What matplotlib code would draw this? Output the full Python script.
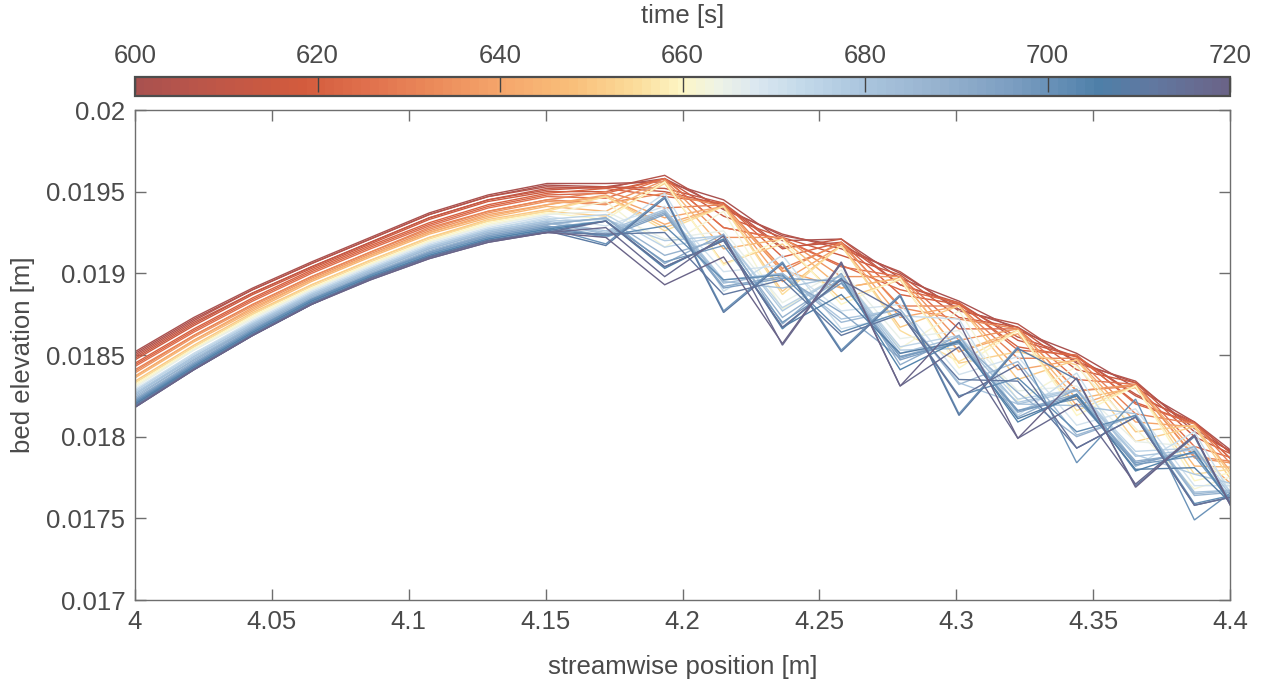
import matplotlib
matplotlib.use("Agg")
import matplotlib.pyplot as plt
from matplotlib.colors import LinearSegmentedColormap, Normalize
from matplotlib.cm import ScalarMappable

# ---------------- data ----------------
x_pos = [4.0, 4.0215, 4.043, 4.0645, 4.086, 4.1075, 4.129, 4.1505, 4.172, 4.1935,
         4.215, 4.2365, 4.258, 4.2795, 4.301, 4.3225, 4.344, 4.3655, 4.387, 4.4085]

times = [600, 602, 605, 610, 612, 615, 620, 622, 625, 630, 632, 635, 640, 642,
         645, 650, 652, 655, 660, 662, 665, 670, 672, 675, 678, 680, 682, 685,
         688, 690, 692, 695, 698, 700, 702, 705, 708, 710, 712, 715, 718, 720]

# bed elevation in mm for each time
p600 = [18.52, 18.73, 18.91, 19.07, 19.22, 19.37, 19.48, 19.55, 19.55, 19.56, 19.45, 19.20, 19.21, 18.97, 18.83, 18.65, 18.51, 18.30, 18.09, 17.81]
p602 = [18.51, 18.72, 18.90, 19.06, 19.21, 19.36, 19.47, 19.54, 19.53, 19.58, 19.40, 19.23, 19.17, 19.00, 18.78, 18.67, 18.46, 18.33, 18.05, 17.82]
p605 = [18.50, 18.71, 18.90, 19.06, 19.21, 19.36, 19.47, 19.53, 19.52, 19.60, 19.39, 19.24, 19.15, 19.01, 18.77, 18.69, 18.45, 18.34, 18.03, 17.84]
p610 = [18.49, 18.70, 18.88, 19.04, 19.19, 19.34, 19.45, 19.52, 19.53, 19.52, 19.43, 19.16, 19.19, 18.93, 18.81, 18.61, 18.49, 18.26, 18.08, 17.79]
p612 = [18.48, 18.69, 18.88, 19.04, 19.19, 19.34, 19.45, 19.51, 19.53, 19.50, 19.42, 19.15, 19.21, 18.93, 18.82, 18.59, 18.49, 18.25, 18.09, 17.78]
p615 = [18.47, 18.68, 18.87, 19.03, 19.18, 19.33, 19.44, 19.50, 19.50, 19.58, 19.35, 19.22, 19.11, 18.99, 18.73, 18.67, 18.41, 18.33, 18.00, 17.83]
p620 = [18.45, 18.66, 18.85, 19.02, 19.17, 19.31, 19.42, 19.49, 19.52, 19.47, 19.43, 19.10, 19.19, 18.87, 18.81, 18.55, 18.49, 18.21, 18.08, 17.73]
p622 = [18.44, 18.65, 18.84, 19.01, 19.16, 19.30, 19.41, 19.48, 19.49, 19.58, 19.28, 19.21, 19.05, 18.90, 18.82, 18.53, 18.50, 18.20, 18.08, 17.73]
p625 = [18.43, 18.64, 18.83, 19.00, 19.15, 19.29, 19.40, 19.47, 19.46, 19.58, 19.28, 19.21, 19.04, 18.98, 18.66, 18.66, 18.35, 18.32, 17.94, 17.83]
p630 = [18.41, 18.62, 18.81, 18.98, 19.13, 19.28, 19.38, 19.45, 19.50, 19.40, 19.42, 19.03, 19.18, 18.80, 18.80, 18.48, 18.48, 18.14, 18.08, 17.68]
p632 = [18.40, 18.62, 18.81, 18.98, 19.13, 19.27, 19.38, 19.45, 19.43, 19.49, 19.41, 19.01, 19.19, 18.79, 18.72, 18.66, 18.28, 18.31, 17.88, 17.83]
p635 = [18.39, 18.61, 18.80, 18.97, 19.12, 19.26, 19.37, 19.44, 19.42, 19.57, 19.22, 19.22, 18.98, 18.98, 18.59, 18.66, 18.28, 18.32, 17.87, 17.82]
p640 = [18.37, 18.59, 18.79, 18.96, 19.11, 19.25, 19.36, 19.42, 19.48, 19.34, 19.41, 18.95, 19.17, 18.73, 18.80, 18.41, 18.47, 18.09, 18.06, 17.62]
p642 = [18.37, 18.59, 18.78, 18.96, 19.11, 19.25, 19.35, 19.42, 19.47, 19.30, 19.41, 19.02, 18.91, 18.97, 18.52, 18.63, 18.19, 18.31, 17.91, 17.59]
p645 = [18.36, 18.58, 18.77, 18.95, 19.10, 19.24, 19.34, 19.41, 19.38, 19.56, 19.15, 19.21, 18.91, 18.97, 18.52, 18.65, 18.23, 18.30, 17.82, 17.81]
p650 = [18.34, 18.56, 18.76, 18.93, 19.08, 19.22, 19.33, 19.39, 19.47, 19.28, 19.41, 18.89, 19.17, 18.67, 18.80, 18.35, 18.47, 18.03, 18.07, 17.58]
p652 = [18.33, 18.55, 18.75, 18.93, 19.08, 19.22, 19.32, 19.38, 19.35, 19.55, 19.06, 19.18, 18.84, 18.96, 18.45, 18.52, 18.44, 17.97, 18.06, 17.54]
p655 = [18.33, 18.55, 18.75, 18.92, 19.07, 19.21, 19.32, 19.38, 19.47, 19.26, 19.41, 18.87, 19.17, 18.65, 18.46, 18.65, 18.16, 18.31, 17.77, 17.82]
p660 = [18.32, 18.54, 18.74, 18.91, 19.06, 19.20, 19.31, 19.37, 19.33, 19.56, 19.05, 19.21, 18.81, 18.97, 18.42, 18.65, 18.13, 18.31, 17.73, 17.81]
p662 = [18.31, 18.53, 18.73, 18.90, 19.05, 19.19, 19.30, 19.36, 19.44, 19.16, 19.38, 18.78, 19.00, 18.54, 18.77, 18.22, 18.43, 18.05, 17.68, 17.80]
p665 = [18.30, 18.53, 18.72, 18.90, 19.05, 19.19, 19.29, 19.36, 19.38, 19.21, 19.26, 18.82, 19.02, 18.60, 18.65, 18.28, 18.31, 17.97, 17.94, 17.53]
p670 = [18.29, 18.51, 18.71, 18.89, 19.04, 19.18, 19.28, 19.35, 19.29, 19.41, 19.01, 19.05, 18.77, 18.81, 18.38, 18.49, 18.07, 18.17, 17.70, 17.70]
p672 = [18.28, 18.51, 18.70, 18.88, 19.03, 19.17, 19.27, 19.34, 19.24, 19.49, 18.89, 19.11, 18.66, 18.74, 18.72, 18.13, 18.39, 17.82, 18.03, 17.42]
p675 = [18.28, 18.50, 18.70, 18.88, 19.03, 19.17, 19.27, 19.33, 19.36, 19.16, 19.23, 18.79, 18.99, 18.55, 18.62, 18.23, 18.29, 17.91, 17.93, 17.49]
p678 = [18.27, 18.49, 18.69, 18.87, 19.02, 19.16, 19.26, 19.32, 19.33, 19.20, 19.23, 18.77, 18.99, 18.53, 18.54, 18.21, 18.29, 17.89, 17.77, 17.68]
p680 = [18.26, 18.49, 18.69, 18.87, 19.02, 19.16, 19.26, 19.32, 19.26, 19.39, 18.96, 19.00, 18.72, 18.78, 18.33, 18.20, 18.28, 17.88, 17.92, 17.47]
p682 = [18.26, 18.48, 18.68, 18.86, 19.01, 19.15, 19.25, 19.31, 19.25, 19.38, 18.95, 18.91, 18.98, 18.51, 18.61, 18.20, 18.19, 18.14, 17.66, 17.68]
p685 = [18.25, 18.47, 18.68, 18.86, 19.01, 19.15, 19.25, 19.31, 19.24, 19.38, 18.94, 19.00, 18.70, 18.78, 18.32, 18.46, 18.01, 18.13, 17.65, 17.68]
p688 = [18.24, 18.47, 18.67, 18.85, 19.00, 19.14, 19.24, 19.30, 19.34, 19.11, 19.21, 18.73, 18.97, 18.49, 18.59, 18.27, 18.00, 18.13, 17.64, 17.67]
p690 = [18.23, 18.46, 18.67, 18.85, 19.00, 19.13, 19.24, 19.30, 19.34, 19.06, 19.24, 18.69, 19.00, 18.44, 18.62, 18.12, 18.29, 17.82, 17.94, 17.41]
p692 = [18.23, 18.45, 18.66, 18.84, 18.99, 19.13, 19.23, 19.29, 19.23, 19.37, 18.92, 18.98, 18.76, 18.48, 18.59, 18.16, 18.26, 17.85, 17.90, 17.43]
p695 = [18.22, 18.45, 18.66, 18.84, 18.99, 19.13, 19.23, 19.29, 19.22, 19.36, 18.91, 18.97, 18.95, 18.47, 18.58, 18.15, 18.25, 17.84, 17.90, 17.42]
p698 = [18.22, 18.44, 18.65, 18.84, 18.99, 19.12, 19.22, 19.28, 19.32, 19.07, 19.17, 18.70, 18.94, 18.49, 18.57, 18.16, 18.23, 17.83, 17.88, 17.43]
p700 = [18.21, 18.44, 18.65, 18.84, 18.99, 19.12, 19.22, 19.28, 19.18, 19.47, 18.77, 19.07, 18.53, 18.87, 18.14, 18.55, 17.84, 18.23, 17.49, 17.76]
p702 = [18.21, 18.43, 18.64, 18.83, 18.98, 19.11, 19.21, 19.27, 19.23, 19.29, 18.96, 18.99, 18.64, 18.76, 18.25, 18.36, 18.03, 18.13, 17.59, 17.67]
p705 = [18.20, 18.43, 18.64, 18.83, 18.98, 19.11, 19.21, 19.27, 19.32, 19.03, 19.21, 18.66, 18.97, 18.41, 18.59, 18.09, 18.26, 17.79, 17.91, 17.39]
p708 = [18.20, 18.42, 18.63, 18.82, 18.97, 19.10, 19.20, 19.26, 19.32, 19.04, 19.20, 18.67, 18.87, 18.51, 18.58, 18.11, 18.25, 17.80, 17.81, 17.46]
p710 = [18.19, 18.42, 18.63, 18.82, 18.97, 19.10, 19.20, 19.26, 19.17, 19.46, 18.76, 19.06, 18.52, 18.86, 18.13, 18.54, 18.35, 17.70, 18.00, 17.31]
p712 = [18.19, 18.41, 18.62, 18.81, 18.97, 19.10, 19.20, 19.25, 19.24, 19.25, 18.87, 18.96, 18.62, 18.75, 18.35, 18.34, 17.93, 18.12, 17.58, 17.66]
p715 = [18.18, 18.41, 18.62, 18.81, 18.97, 19.10, 19.20, 19.25, 19.32, 19.04, 19.20, 18.67, 18.96, 18.76, 18.24, 18.44, 17.93, 18.12, 17.58, 17.66]
p718 = [18.18, 18.41, 18.62, 18.81, 18.96, 19.09, 19.19, 19.25, 19.28, 18.98, 19.23, 18.56, 19.06, 18.31, 18.55, 17.99, 18.20, 17.71, 18.01, 17.31]
p720 = [18.18, 18.41, 18.62, 18.81, 18.96, 19.09, 19.19, 19.25, 19.22, 18.93, 19.10, 18.57, 19.07, 18.31, 18.70, 17.99, 18.36, 17.69, 18.01, 17.31]

profiles_mm = [p600, p602, p605, p610, p612, p615, p620, p622, p625, p630, p632, p635,
               p640, p642, p645, p650, p652, p655, p660, p662, p665, p670, p672, p675,
               p678, p680, p682, p685, p688, p690, p692, p695, p698, p700, p702, p705,
               p708, p710, p712, p715, p718, p720]

x_ticks = [4.0, 4.05, 4.1, 4.15, 4.2, 4.25, 4.3, 4.35, 4.4]
x_tick_labels = ["4", "4.05", "4.1", "4.15", "4.2", "4.25", "4.3", "4.35", "4.4"]
y_ticks = [0.017, 0.0175, 0.018, 0.0185, 0.019, 0.0195, 0.02]
y_tick_labels = ["0.017", "0.0175", "0.018", "0.0185", "0.019", "0.0195", "0.02"]
cb_ticks = [600, 620, 640, 660, 680, 700, 720]

# colormap stops (time fraction, colour)
cmap_stops = [(0.000, "#a9514f"), (0.050, "#b9554a"), (0.150, "#d35b3d"),
              (0.210, "#e0704d"), (0.270, "#eb8a5a"), (0.333, "#f5a66b"),
              (0.400, "#f9bf7a"), (0.460, "#fbde9d"), (0.500, "#fdf6c6"),
              (0.533, "#eef3e6"), (0.567, "#dce8f0"), (0.608, "#c4daea"),
              (0.667, "#aac5de"), (0.733, "#97b3cf"), (0.800, "#7d9fc2"),
              (0.858, "#5e8ab2"), (0.883, "#4e7fa8"), (0.933, "#6178a0"),
              (1.000, "#6a6488")]

# ---------------- style ----------------
plt.rcParams["font.family"] = ["Liberation Sans", "DejaVu Sans"]
text_col = "#4a4a4a"
axis_col = "#6e6e6e"
fs = 18.5

cmap = LinearSegmentedColormap.from_list("timecmap", cmap_stops, N=121)
norm = Normalize(vmin=600, vmax=720)

fig = plt.figure(figsize=(12.7, 6.86), dpi=100)
ax = fig.add_axes([135 / 1270, (686 - 600) / 686, 1095 / 1270, 490 / 686])

for t, prof in zip(times, profiles_mm):
    ax.plot(x_pos, [v / 1000.0 for v in prof], color=cmap(norm(t)), lw=1.0,
            solid_joinstyle="miter")

ax.set_xlim(4.0, 4.4)
ax.set_ylim(0.017, 0.02)
ax.set_xticks(x_ticks)
ax.set_xticklabels(x_tick_labels)
ax.set_yticks(y_ticks)
ax.set_yticklabels(y_tick_labels)
ax.tick_params(direction="in", length=8, width=1.0, color=axis_col,
               labelcolor=text_col, labelsize=fs, top=True, right=True, pad=7)
for sp in ax.spines.values():
    sp.set_color(axis_col)
    sp.set_linewidth(1.0)
ax.set_xlabel("streamwise position [m]", fontsize=fs, color=text_col, labelpad=15)
ax.set_ylabel("bed elevation [m]", fontsize=fs, color=text_col, labelpad=8)

# colorbar on top
cax = fig.add_axes([135 / 1270, (686 - 96) / 686, 1095 / 1270, 19 / 686])
sm = ScalarMappable(norm=norm, cmap=cmap)
cb = fig.colorbar(sm, cax=cax, orientation="horizontal")
cb.set_ticks(cb_ticks)
cax.xaxis.set_ticks_position("top")
cax.xaxis.set_label_position("top")
cax.tick_params(direction="in", length=11, width=1.0, color="#444444",
                labelcolor=text_col, labelsize=fs, pad=6.5)
cb.outline.set_edgecolor("#4d4d4d")
cb.outline.set_linewidth(1.6)
cb.set_label("time [s]", fontsize=fs, color=text_col, labelpad=15)

fig.savefig("out.png", dpi=100)
